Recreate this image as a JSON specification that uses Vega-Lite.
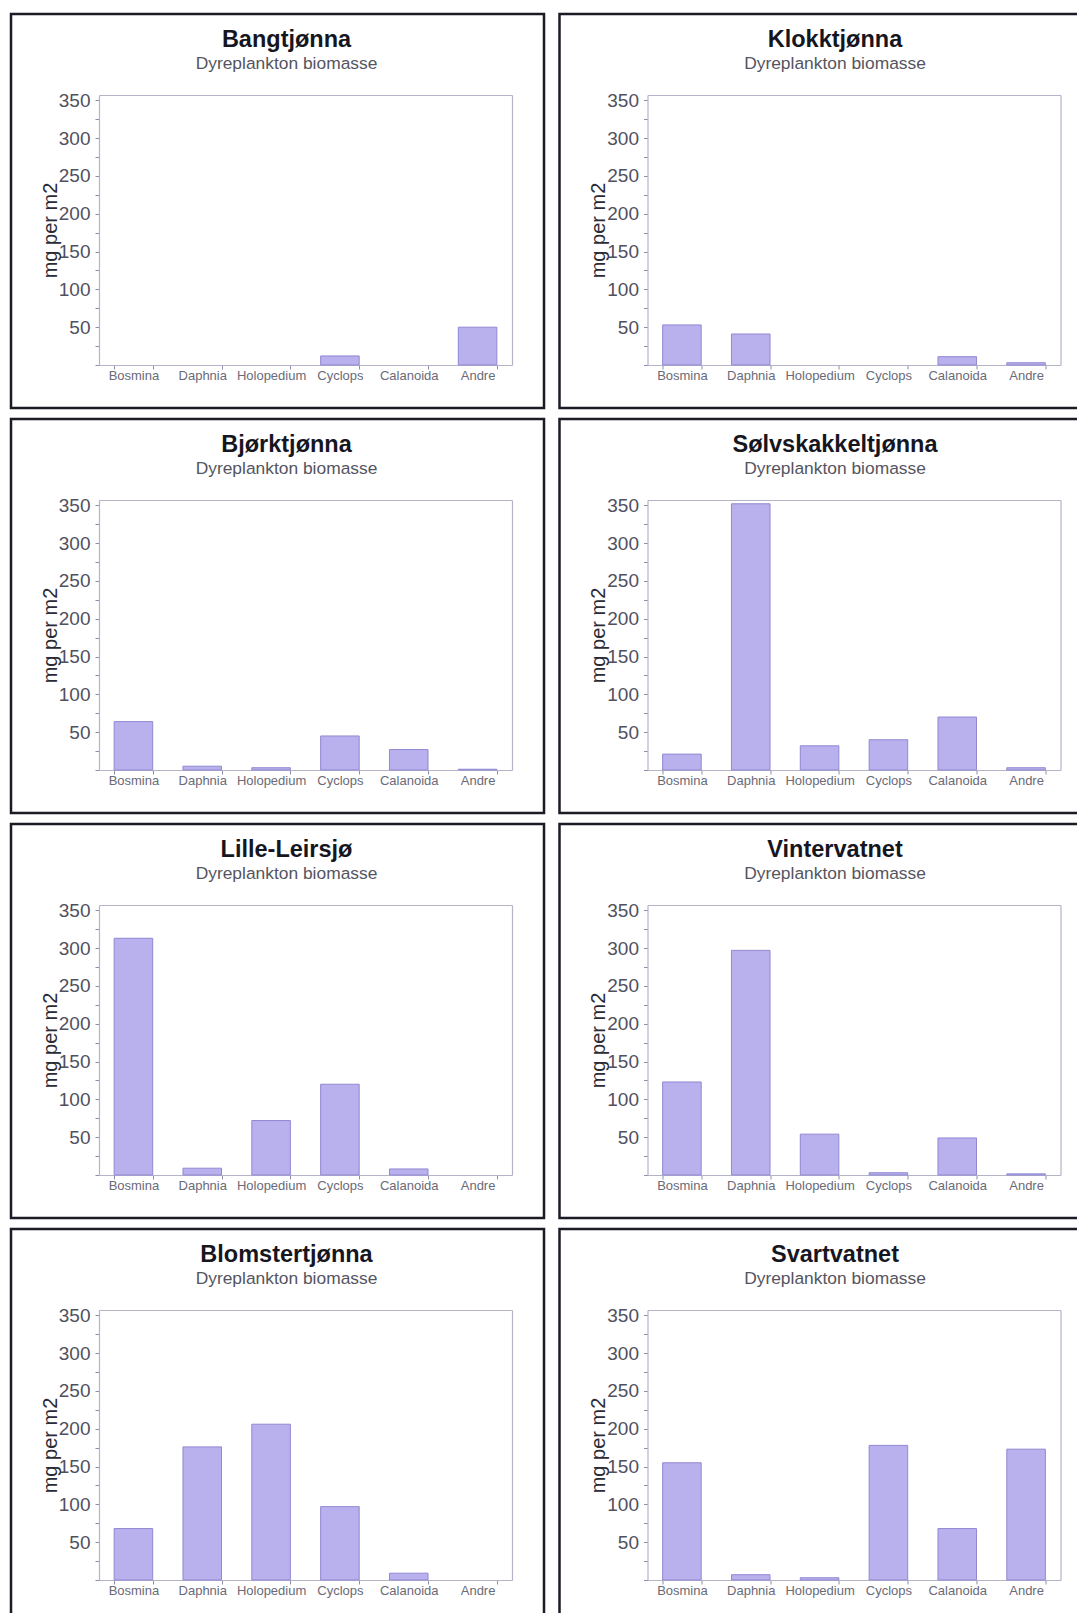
{
  "$schema": "https://vega.github.io/schema/vega-lite/v6.json",
  "background": "white",
  "padding": {"left": 9, "top": 12, "right": 0, "bottom": 0},
  "datasets": {
    "plankton": [
      {"lake": "Bangtjønna", "taxon": "Bosmina", "biomass": 0},
      {"lake": "Bangtjønna", "taxon": "Daphnia", "biomass": 0},
      {"lake": "Bangtjønna", "taxon": "Holopedium", "biomass": 0},
      {"lake": "Bangtjønna", "taxon": "Cyclops", "biomass": 12},
      {"lake": "Bangtjønna", "taxon": "Calanoida", "biomass": 0},
      {"lake": "Bangtjønna", "taxon": "Andre", "biomass": 50},
      {"lake": "Klokktjønna", "taxon": "Bosmina", "biomass": 53},
      {"lake": "Klokktjønna", "taxon": "Daphnia", "biomass": 41},
      {"lake": "Klokktjønna", "taxon": "Holopedium", "biomass": 0},
      {"lake": "Klokktjønna", "taxon": "Cyclops", "biomass": 0},
      {"lake": "Klokktjønna", "taxon": "Calanoida", "biomass": 11},
      {"lake": "Klokktjønna", "taxon": "Andre", "biomass": 3},
      {"lake": "Bjørktjønna", "taxon": "Bosmina", "biomass": 64},
      {"lake": "Bjørktjønna", "taxon": "Daphnia", "biomass": 5},
      {"lake": "Bjørktjønna", "taxon": "Holopedium", "biomass": 3},
      {"lake": "Bjørktjønna", "taxon": "Cyclops", "biomass": 45},
      {"lake": "Bjørktjønna", "taxon": "Calanoida", "biomass": 27},
      {"lake": "Bjørktjønna", "taxon": "Andre", "biomass": 1},
      {"lake": "Sølvskakkeltjønna", "taxon": "Bosmina", "biomass": 21},
      {"lake": "Sølvskakkeltjønna", "taxon": "Daphnia", "biomass": 352},
      {"lake": "Sølvskakkeltjønna", "taxon": "Holopedium", "biomass": 32},
      {"lake": "Sølvskakkeltjønna", "taxon": "Cyclops", "biomass": 40},
      {"lake": "Sølvskakkeltjønna", "taxon": "Calanoida", "biomass": 70},
      {"lake": "Sølvskakkeltjønna", "taxon": "Andre", "biomass": 3},
      {"lake": "Lille-Leirsjø", "taxon": "Bosmina", "biomass": 313},
      {"lake": "Lille-Leirsjø", "taxon": "Daphnia", "biomass": 9},
      {"lake": "Lille-Leirsjø", "taxon": "Holopedium", "biomass": 72},
      {"lake": "Lille-Leirsjø", "taxon": "Cyclops", "biomass": 120},
      {"lake": "Lille-Leirsjø", "taxon": "Calanoida", "biomass": 8},
      {"lake": "Lille-Leirsjø", "taxon": "Andre", "biomass": 0},
      {"lake": "Vintervatnet", "taxon": "Bosmina", "biomass": 123},
      {"lake": "Vintervatnet", "taxon": "Daphnia", "biomass": 297},
      {"lake": "Vintervatnet", "taxon": "Holopedium", "biomass": 54},
      {"lake": "Vintervatnet", "taxon": "Cyclops", "biomass": 3},
      {"lake": "Vintervatnet", "taxon": "Calanoida", "biomass": 49},
      {"lake": "Vintervatnet", "taxon": "Andre", "biomass": 1.5},
      {"lake": "Blomstertjønna", "taxon": "Bosmina", "biomass": 68},
      {"lake": "Blomstertjønna", "taxon": "Daphnia", "biomass": 176},
      {"lake": "Blomstertjønna", "taxon": "Holopedium", "biomass": 206},
      {"lake": "Blomstertjønna", "taxon": "Cyclops", "biomass": 97},
      {"lake": "Blomstertjønna", "taxon": "Calanoida", "biomass": 9},
      {"lake": "Blomstertjønna", "taxon": "Andre", "biomass": 0},
      {"lake": "Svartvatnet", "taxon": "Bosmina", "biomass": 155},
      {"lake": "Svartvatnet", "taxon": "Daphnia", "biomass": 7},
      {"lake": "Svartvatnet", "taxon": "Holopedium", "biomass": 3},
      {"lake": "Svartvatnet", "taxon": "Cyclops", "biomass": 178},
      {"lake": "Svartvatnet", "taxon": "Calanoida", "biomass": 68},
      {"lake": "Svartvatnet", "taxon": "Andre", "biomass": 173}
    ]
  },
  "spacing": 7,
  "vconcat": [
    {"spacing": 11.5, "hconcat": [
      {"width": 533, "height": 394, "title": {"text": "Bangtjønna", "subtitle": "Dyreplankton biomasse"},
       "data": {"name": "plankton"}, "transform": [{"filter": "datum.lake === 'Bangtjønna' && datum.biomass > 0"}],
       "layer": [
        {"mark": {"type": "bar", "fill": "#b9b0ee", "stroke": "#9088d2", "strokeWidth": 1},
         "encoding": {
          "x": {"field": "taxon", "type": "nominal", "scale": {"domain": ["Bosmina", "Daphnia", "Holopedium", "Cyclops", "Calanoida", "Andre"], "range": [88, 501], "paddingInner": 0.44, "paddingOuter": 0.22},
                "axis": {"orient": "bottom", "offset": -43, "title": null, "labelAngle": 0, "labelFontSize": 13, "labelColor": "#6a6a78", "labelPadding": 0, "tickSize": 4, "tickBand": "extent"}},
          "y": {"field": "biomass", "type": "quantitative", "scale": {"domain": [0, 357], "range": [351, 81], "nice": false, "zero": true},
                "axis": {"orient": "left", "offset": -88, "values": [0, 25, 50, 75, 100, 125, 150, 175, 200, 225, 250, 275, 300, 325, 350], "labelExpr": "datum.value > 0 && datum.value % 50 === 0 ? datum.label : ''", "labelOverlap": false, "labelFontSize": 19, "labelColor": "#50505e", "labelPadding": 5, "tickSize": 4, "title": "mg per m2", "titleFontSize": 20, "titleFontWeight": "normal", "titleColor": "#2b2b36", "titleX": -43, "titleBaseline": "alphabetic"}}
         }},
        {"mark": {"type": "bar", "opacity": 0},
         "encoding": {
          "x": {"field": "taxon", "type": "nominal", "axis": {"orient": "top", "offset": -81, "labels": false, "ticks": false, "title": null}},
          "y": {"field": "biomass", "type": "quantitative", "axis": {"orient": "right", "offset": -32, "labels": false, "ticks": false, "title": null}}
         }}
       ],
       "resolve": {"axis": {"x": "independent", "y": "independent"}}
      },
      {"width": 533, "height": 394, "title": {"text": "Klokktjønna", "subtitle": "Dyreplankton biomasse"},
       "data": {"name": "plankton"}, "transform": [{"filter": "datum.lake === 'Klokktjønna' && datum.biomass > 0"}],
       "layer": [
        {"mark": {"type": "bar", "fill": "#b9b0ee", "stroke": "#9088d2", "strokeWidth": 1},
         "encoding": {
          "x": {"field": "taxon", "type": "nominal", "scale": {"domain": ["Bosmina", "Daphnia", "Holopedium", "Cyclops", "Calanoida", "Andre"], "range": [88, 501], "paddingInner": 0.44, "paddingOuter": 0.22},
                "axis": {"orient": "bottom", "offset": -43, "title": null, "labelAngle": 0, "labelFontSize": 13, "labelColor": "#6a6a78", "labelPadding": 0, "tickSize": 4, "tickBand": "extent"}},
          "y": {"field": "biomass", "type": "quantitative", "scale": {"domain": [0, 357], "range": [351, 81], "nice": false, "zero": true},
                "axis": {"orient": "left", "offset": -88, "values": [0, 25, 50, 75, 100, 125, 150, 175, 200, 225, 250, 275, 300, 325, 350], "labelExpr": "datum.value > 0 && datum.value % 50 === 0 ? datum.label : ''", "labelOverlap": false, "labelFontSize": 19, "labelColor": "#50505e", "labelPadding": 5, "tickSize": 4, "title": "mg per m2", "titleFontSize": 20, "titleFontWeight": "normal", "titleColor": "#2b2b36", "titleX": -43, "titleBaseline": "alphabetic"}}
         }},
        {"mark": {"type": "bar", "opacity": 0},
         "encoding": {
          "x": {"field": "taxon", "type": "nominal", "axis": {"orient": "top", "offset": -81, "labels": false, "ticks": false, "title": null}},
          "y": {"field": "biomass", "type": "quantitative", "axis": {"orient": "right", "offset": -32, "labels": false, "ticks": false, "title": null}}
         }}
       ],
       "resolve": {"axis": {"x": "independent", "y": "independent"}}
      }
    ]},
    {"spacing": 11.5, "hconcat": [
      {"width": 533, "height": 394, "title": {"text": "Bjørktjønna", "subtitle": "Dyreplankton biomasse"},
       "data": {"name": "plankton"}, "transform": [{"filter": "datum.lake === 'Bjørktjønna' && datum.biomass > 0"}],
       "layer": [
        {"mark": {"type": "bar", "fill": "#b9b0ee", "stroke": "#9088d2", "strokeWidth": 1},
         "encoding": {
          "x": {"field": "taxon", "type": "nominal", "scale": {"domain": ["Bosmina", "Daphnia", "Holopedium", "Cyclops", "Calanoida", "Andre"], "range": [88, 501], "paddingInner": 0.44, "paddingOuter": 0.22},
                "axis": {"orient": "bottom", "offset": -43, "title": null, "labelAngle": 0, "labelFontSize": 13, "labelColor": "#6a6a78", "labelPadding": 0, "tickSize": 4, "tickBand": "extent"}},
          "y": {"field": "biomass", "type": "quantitative", "scale": {"domain": [0, 357], "range": [351, 81], "nice": false, "zero": true},
                "axis": {"orient": "left", "offset": -88, "values": [0, 25, 50, 75, 100, 125, 150, 175, 200, 225, 250, 275, 300, 325, 350], "labelExpr": "datum.value > 0 && datum.value % 50 === 0 ? datum.label : ''", "labelOverlap": false, "labelFontSize": 19, "labelColor": "#50505e", "labelPadding": 5, "tickSize": 4, "title": "mg per m2", "titleFontSize": 20, "titleFontWeight": "normal", "titleColor": "#2b2b36", "titleX": -43, "titleBaseline": "alphabetic"}}
         }},
        {"mark": {"type": "bar", "opacity": 0},
         "encoding": {
          "x": {"field": "taxon", "type": "nominal", "axis": {"orient": "top", "offset": -81, "labels": false, "ticks": false, "title": null}},
          "y": {"field": "biomass", "type": "quantitative", "axis": {"orient": "right", "offset": -32, "labels": false, "ticks": false, "title": null}}
         }}
       ],
       "resolve": {"axis": {"x": "independent", "y": "independent"}}
      },
      {"width": 533, "height": 394, "title": {"text": "Sølvskakkeltjønna", "subtitle": "Dyreplankton biomasse"},
       "data": {"name": "plankton"}, "transform": [{"filter": "datum.lake === 'Sølvskakkeltjønna' && datum.biomass > 0"}],
       "layer": [
        {"mark": {"type": "bar", "fill": "#b9b0ee", "stroke": "#9088d2", "strokeWidth": 1},
         "encoding": {
          "x": {"field": "taxon", "type": "nominal", "scale": {"domain": ["Bosmina", "Daphnia", "Holopedium", "Cyclops", "Calanoida", "Andre"], "range": [88, 501], "paddingInner": 0.44, "paddingOuter": 0.22},
                "axis": {"orient": "bottom", "offset": -43, "title": null, "labelAngle": 0, "labelFontSize": 13, "labelColor": "#6a6a78", "labelPadding": 0, "tickSize": 4, "tickBand": "extent"}},
          "y": {"field": "biomass", "type": "quantitative", "scale": {"domain": [0, 357], "range": [351, 81], "nice": false, "zero": true},
                "axis": {"orient": "left", "offset": -88, "values": [0, 25, 50, 75, 100, 125, 150, 175, 200, 225, 250, 275, 300, 325, 350], "labelExpr": "datum.value > 0 && datum.value % 50 === 0 ? datum.label : ''", "labelOverlap": false, "labelFontSize": 19, "labelColor": "#50505e", "labelPadding": 5, "tickSize": 4, "title": "mg per m2", "titleFontSize": 20, "titleFontWeight": "normal", "titleColor": "#2b2b36", "titleX": -43, "titleBaseline": "alphabetic"}}
         }},
        {"mark": {"type": "bar", "opacity": 0},
         "encoding": {
          "x": {"field": "taxon", "type": "nominal", "axis": {"orient": "top", "offset": -81, "labels": false, "ticks": false, "title": null}},
          "y": {"field": "biomass", "type": "quantitative", "axis": {"orient": "right", "offset": -32, "labels": false, "ticks": false, "title": null}}
         }}
       ],
       "resolve": {"axis": {"x": "independent", "y": "independent"}}
      }
    ]},
    {"spacing": 11.5, "hconcat": [
      {"width": 533, "height": 394, "title": {"text": "Lille-Leirsjø", "subtitle": "Dyreplankton biomasse"},
       "data": {"name": "plankton"}, "transform": [{"filter": "datum.lake === 'Lille-Leirsjø' && datum.biomass > 0"}],
       "layer": [
        {"mark": {"type": "bar", "fill": "#b9b0ee", "stroke": "#9088d2", "strokeWidth": 1},
         "encoding": {
          "x": {"field": "taxon", "type": "nominal", "scale": {"domain": ["Bosmina", "Daphnia", "Holopedium", "Cyclops", "Calanoida", "Andre"], "range": [88, 501], "paddingInner": 0.44, "paddingOuter": 0.22},
                "axis": {"orient": "bottom", "offset": -43, "title": null, "labelAngle": 0, "labelFontSize": 13, "labelColor": "#6a6a78", "labelPadding": 0, "tickSize": 4, "tickBand": "extent"}},
          "y": {"field": "biomass", "type": "quantitative", "scale": {"domain": [0, 357], "range": [351, 81], "nice": false, "zero": true},
                "axis": {"orient": "left", "offset": -88, "values": [0, 25, 50, 75, 100, 125, 150, 175, 200, 225, 250, 275, 300, 325, 350], "labelExpr": "datum.value > 0 && datum.value % 50 === 0 ? datum.label : ''", "labelOverlap": false, "labelFontSize": 19, "labelColor": "#50505e", "labelPadding": 5, "tickSize": 4, "title": "mg per m2", "titleFontSize": 20, "titleFontWeight": "normal", "titleColor": "#2b2b36", "titleX": -43, "titleBaseline": "alphabetic"}}
         }},
        {"mark": {"type": "bar", "opacity": 0},
         "encoding": {
          "x": {"field": "taxon", "type": "nominal", "axis": {"orient": "top", "offset": -81, "labels": false, "ticks": false, "title": null}},
          "y": {"field": "biomass", "type": "quantitative", "axis": {"orient": "right", "offset": -32, "labels": false, "ticks": false, "title": null}}
         }}
       ],
       "resolve": {"axis": {"x": "independent", "y": "independent"}}
      },
      {"width": 533, "height": 394, "title": {"text": "Vintervatnet", "subtitle": "Dyreplankton biomasse"},
       "data": {"name": "plankton"}, "transform": [{"filter": "datum.lake === 'Vintervatnet' && datum.biomass > 0"}],
       "layer": [
        {"mark": {"type": "bar", "fill": "#b9b0ee", "stroke": "#9088d2", "strokeWidth": 1},
         "encoding": {
          "x": {"field": "taxon", "type": "nominal", "scale": {"domain": ["Bosmina", "Daphnia", "Holopedium", "Cyclops", "Calanoida", "Andre"], "range": [88, 501], "paddingInner": 0.44, "paddingOuter": 0.22},
                "axis": {"orient": "bottom", "offset": -43, "title": null, "labelAngle": 0, "labelFontSize": 13, "labelColor": "#6a6a78", "labelPadding": 0, "tickSize": 4, "tickBand": "extent"}},
          "y": {"field": "biomass", "type": "quantitative", "scale": {"domain": [0, 357], "range": [351, 81], "nice": false, "zero": true},
                "axis": {"orient": "left", "offset": -88, "values": [0, 25, 50, 75, 100, 125, 150, 175, 200, 225, 250, 275, 300, 325, 350], "labelExpr": "datum.value > 0 && datum.value % 50 === 0 ? datum.label : ''", "labelOverlap": false, "labelFontSize": 19, "labelColor": "#50505e", "labelPadding": 5, "tickSize": 4, "title": "mg per m2", "titleFontSize": 20, "titleFontWeight": "normal", "titleColor": "#2b2b36", "titleX": -43, "titleBaseline": "alphabetic"}}
         }},
        {"mark": {"type": "bar", "opacity": 0},
         "encoding": {
          "x": {"field": "taxon", "type": "nominal", "axis": {"orient": "top", "offset": -81, "labels": false, "ticks": false, "title": null}},
          "y": {"field": "biomass", "type": "quantitative", "axis": {"orient": "right", "offset": -32, "labels": false, "ticks": false, "title": null}}
         }}
       ],
       "resolve": {"axis": {"x": "independent", "y": "independent"}}
      }
    ]},
    {"spacing": 11.5, "hconcat": [
      {"width": 533, "height": 394, "title": {"text": "Blomstertjønna", "subtitle": "Dyreplankton biomasse"},
       "data": {"name": "plankton"}, "transform": [{"filter": "datum.lake === 'Blomstertjønna' && datum.biomass > 0"}],
       "layer": [
        {"mark": {"type": "bar", "fill": "#b9b0ee", "stroke": "#9088d2", "strokeWidth": 1},
         "encoding": {
          "x": {"field": "taxon", "type": "nominal", "scale": {"domain": ["Bosmina", "Daphnia", "Holopedium", "Cyclops", "Calanoida", "Andre"], "range": [88, 501], "paddingInner": 0.44, "paddingOuter": 0.22},
                "axis": {"orient": "bottom", "offset": -43, "title": null, "labelAngle": 0, "labelFontSize": 13, "labelColor": "#6a6a78", "labelPadding": 0, "tickSize": 4, "tickBand": "extent"}},
          "y": {"field": "biomass", "type": "quantitative", "scale": {"domain": [0, 357], "range": [351, 81], "nice": false, "zero": true},
                "axis": {"orient": "left", "offset": -88, "values": [0, 25, 50, 75, 100, 125, 150, 175, 200, 225, 250, 275, 300, 325, 350], "labelExpr": "datum.value > 0 && datum.value % 50 === 0 ? datum.label : ''", "labelOverlap": false, "labelFontSize": 19, "labelColor": "#50505e", "labelPadding": 5, "tickSize": 4, "title": "mg per m2", "titleFontSize": 20, "titleFontWeight": "normal", "titleColor": "#2b2b36", "titleX": -43, "titleBaseline": "alphabetic"}}
         }},
        {"mark": {"type": "bar", "opacity": 0},
         "encoding": {
          "x": {"field": "taxon", "type": "nominal", "axis": {"orient": "top", "offset": -81, "labels": false, "ticks": false, "title": null}},
          "y": {"field": "biomass", "type": "quantitative", "axis": {"orient": "right", "offset": -32, "labels": false, "ticks": false, "title": null}}
         }}
       ],
       "resolve": {"axis": {"x": "independent", "y": "independent"}}
      },
      {"width": 533, "height": 394, "title": {"text": "Svartvatnet", "subtitle": "Dyreplankton biomasse"},
       "data": {"name": "plankton"}, "transform": [{"filter": "datum.lake === 'Svartvatnet' && datum.biomass > 0"}],
       "layer": [
        {"mark": {"type": "bar", "fill": "#b9b0ee", "stroke": "#9088d2", "strokeWidth": 1},
         "encoding": {
          "x": {"field": "taxon", "type": "nominal", "scale": {"domain": ["Bosmina", "Daphnia", "Holopedium", "Cyclops", "Calanoida", "Andre"], "range": [88, 501], "paddingInner": 0.44, "paddingOuter": 0.22},
                "axis": {"orient": "bottom", "offset": -43, "title": null, "labelAngle": 0, "labelFontSize": 13, "labelColor": "#6a6a78", "labelPadding": 0, "tickSize": 4, "tickBand": "extent"}},
          "y": {"field": "biomass", "type": "quantitative", "scale": {"domain": [0, 357], "range": [351, 81], "nice": false, "zero": true},
                "axis": {"orient": "left", "offset": -88, "values": [0, 25, 50, 75, 100, 125, 150, 175, 200, 225, 250, 275, 300, 325, 350], "labelExpr": "datum.value > 0 && datum.value % 50 === 0 ? datum.label : ''", "labelOverlap": false, "labelFontSize": 19, "labelColor": "#50505e", "labelPadding": 5, "tickSize": 4, "title": "mg per m2", "titleFontSize": 20, "titleFontWeight": "normal", "titleColor": "#2b2b36", "titleX": -43, "titleBaseline": "alphabetic"}}
         }},
        {"mark": {"type": "bar", "opacity": 0},
         "encoding": {
          "x": {"field": "taxon", "type": "nominal", "axis": {"orient": "top", "offset": -81, "labels": false, "ticks": false, "title": null}},
          "y": {"field": "biomass", "type": "quantitative", "axis": {"orient": "right", "offset": -32, "labels": false, "ticks": false, "title": null}}
         }}
       ],
       "resolve": {"axis": {"x": "independent", "y": "independent"}}
      }
    ]}
  ],
  "config": {
    "view": {"stroke": "#1b1b26", "strokeWidth": 2.5, "fill": "white"},
    "axis": {"domainColor": "#b4b4c8", "domainWidth": 1.2, "tickColor": "#8e8ea8", "tickWidth": 1, "grid": false, "labelFont": "Liberation Sans", "titleFont": "Liberation Sans"},
    "title": {"font": "Liberation Sans", "fontSize": 23.5, "fontWeight": "bold", "color": "#16161f", "subtitleFont": "Liberation Sans", "subtitleFontSize": 17.4, "subtitleColor": "#55555f", "subtitlePadding": 3, "anchor": "middle", "frame": "group", "offset": -58, "dx": 9}
  }
}
